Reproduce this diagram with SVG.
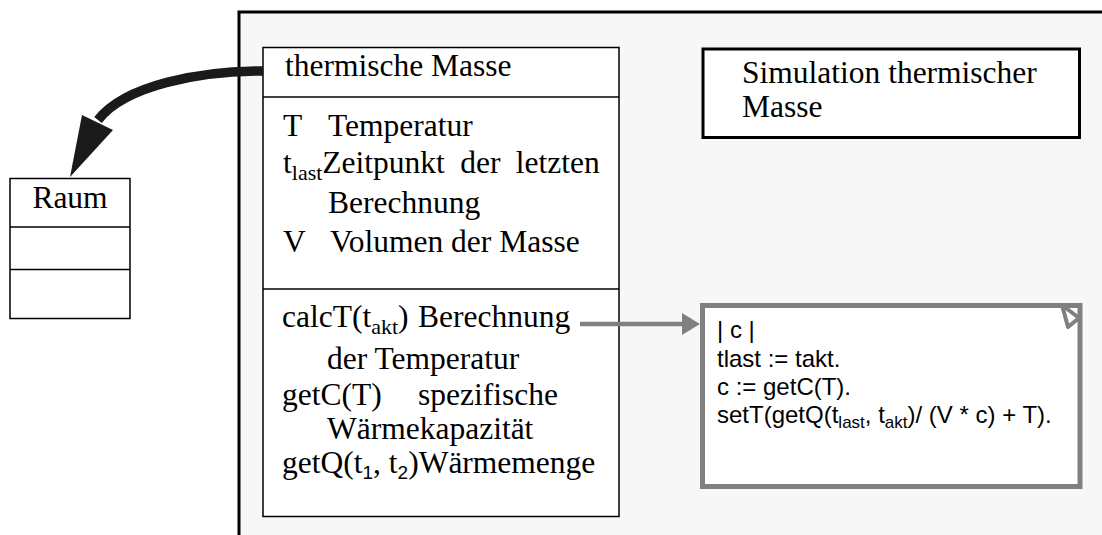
<svg xmlns="http://www.w3.org/2000/svg" width="1102" height="535" viewBox="0 0 1102 535">
<style>
.serif{font-family:"Liberation Serif","Times New Roman",serif;font-size:31.5px;fill:#000}
.sub{font-size:22px}
.sans{font-family:"Liberation Sans",Arial,sans-serif;font-size:24px;fill:#000}
.nsub{font-size:17px}
.box{fill:#fff;stroke:#000;stroke-width:1.5}
.div{stroke:#000;stroke-width:1.5}
</style>
<rect x="238" y="12" width="870" height="530" fill="#f7f7f7"/>
<path d="M239,535 V12 H1102" fill="none" stroke="#000" stroke-width="3"/>
<g id="raum">
<rect class="box" x="10" y="178.5" width="120" height="140"/>
<line class="div" x1="10" y1="227" x2="130" y2="227"/>
<line class="div" x1="10" y1="269.5" x2="130" y2="269.5"/>
<text class="serif" x="70" y="208" text-anchor="middle">Raum</text>
</g>
<g id="simulation">
<rect x="703" y="49" width="376.5" height="88.5" fill="#fff" stroke="#000" stroke-width="3"/>
<text class="serif" x="742" y="83">Simulation thermischer</text>
<text class="serif" x="742" y="117">Masse</text>
</g>
<g id="thermische-masse">
<rect class="box" x="263" y="47.5" width="356" height="469"/>
<line class="div" x1="263" y1="97" x2="619" y2="97"/>
<line class="div" x1="263" y1="289" x2="619" y2="289"/>
<text class="serif" x="285" y="76">thermische Masse</text>
<text class="serif" x="283" y="136">T</text>
<text class="serif" x="328" y="136">Temperatur</text>
<text class="serif" x="283" y="173">t<tspan class="sub" dy="7">last</tspan><tspan dy="-7" word-spacing="7.5">Zeitpunkt der letzten</tspan></text>
<text class="serif" x="328" y="213">Berechnung</text>
<text class="serif" x="283" y="252">V</text>
<text class="serif" x="330" y="252">Volumen der Masse</text>
<text class="serif" x="282" y="327">calcT(t<tspan class="sub" dy="7">akt</tspan><tspan dy="-7">)</tspan><tspan x="418">Berechnung</tspan></text>
<text class="serif" x="327" y="369">der Temperatur</text>
<text class="serif" x="282" y="405">getC(T)</text>
<text class="serif" x="418" y="405">spezifische</text>
<text class="serif" x="327" y="439">Wärmekapazität</text>
<text class="serif" x="282" y="473">getQ(t<tspan font-family="Liberation Sans, Arial, sans-serif" font-size="19" dy="6">1</tspan><tspan dy="-6">, t</tspan><tspan font-family="Liberation Sans, Arial, sans-serif" font-size="19" dy="6">2</tspan><tspan dy="-6">)Wärmemenge</tspan></text>
</g>
<g id="note">
<rect x="702.5" y="305.5" width="377.5" height="181" fill="#fff" stroke="#808080" stroke-width="5"/>
<polygon points="1062,305 1079,318 1068,327" fill="#fff" stroke="#808080" stroke-width="4" stroke-linejoin="round"/>
<text class="sans" x="717" y="338">| c |</text>
<text class="sans" x="717" y="367">tlast := takt.</text>
<text class="sans" x="717" y="395">c := getC(T).</text>
<text class="sans" x="717" y="423">setT(getQ(t<tspan class="nsub" dy="5">last</tspan><tspan dy="-5">, t</tspan><tspan class="nsub" dy="5">akt</tspan><tspan dy="-5">)/ (V * c) + T).</tspan></text>
</g>
<g id="connectors">
<path d="M263,71 C200,71 125,85 98,120" fill="none" stroke="#1a1a1a" stroke-width="9.5"/>
<polygon points="82,115 113,130 70,177" fill="#1a1a1a"/>
<line x1="580" y1="324" x2="684" y2="324" stroke="#808080" stroke-width="4.5"/>
<polygon points="682,313 700,324 682,335" fill="#808080"/>
</g>
</svg>
